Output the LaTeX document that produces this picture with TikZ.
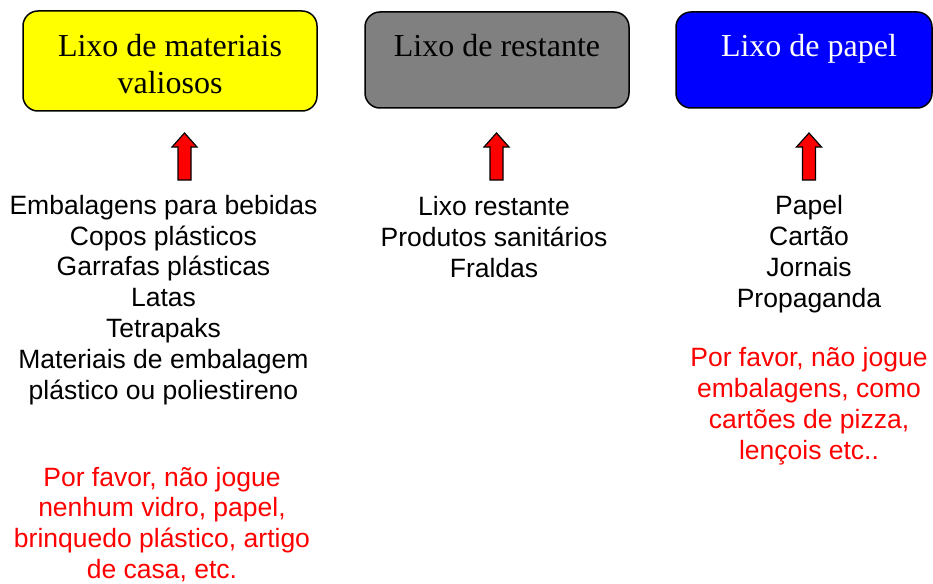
\documentclass[tikz,border=0pt]{standalone}
\usepackage{fontspec}
\setmainfont{Liberation Sans}
\newfontfamily\boxfont{Liberation Serif}
\usetikzlibrary{calc}
\definecolor{ylw}{HTML}{FFFF00}
\definecolor{gry}{HTML}{808080}
\definecolor{blu}{HTML}{0000FF}
\definecolor{rd}{HTML}{FF0000}
\tikzset{
  bin/.style={draw=black, line width=1.5pt, rounded corners=15pt},
  bintitle/.style={font=\boxfont\fontsize{32}{37}\selectfont, align=center, anchor=base, inner sep=0pt},
  itemlist/.style={font=\fontsize{26.5}{30.8}\selectfont, align=center, anchor=base, inner sep=0pt},
  warn/.style={itemlist, text=rd},
  blockarrow/.style={draw=black, line width=1.2pt, fill=rd, line join=miter}
}
\newcommand{\upblock}[1]{%
  \draw[blockarrow] ($(#1)+(-6.5,47)$) -- ($(#1)+(-6.5,14)$) -- ($(#1)+(-12.5,14)$) -- (#1)
    -- ($(#1)+(12.5,14)$) -- ($(#1)+(6.5,14)$) -- ($(#1)+(6.5,47)$) -- cycle;}
\begin{document}
\begin{tikzpicture}[x=1pt,y=-1pt]
\useasboundingbox (0,0) rectangle (933,583);
% bins
\draw[bin, fill=ylw] (23,11) rectangle (317,111);
\draw[bin, fill=gry] (365,12) rectangle (629,108);
\draw[bin, fill=blu] (676,12) rectangle (932,108);
\node[bintitle] (t1) at (170,93.5) {Lixo de materiais\\valiosos};
\node[bintitle] (t2) at (497,57) {Lixo de restante};
\node[bintitle, text=white] (t3) at (809,57) {Lixo de papel};
% arrows
\coordinate (a1) at (184.5,133);
\coordinate (a2) at (496.5,133);
\coordinate (a3) at (809,133);
\upblock{a1}
\upblock{a2}
\upblock{a3}
% lists
\node[itemlist] (l1) at (163.5,399) {Embalagens para bebidas\\Copos plásticos\\Garrafas plásticas\\Latas\\Tetrapaks\\Materiais de embalagem\\plástico ou poliestireno};
\node[itemlist] (l2) at (494,277) {Lixo restante\\Produtos sanitários\\Fraldas};
\node[itemlist] (l3) at (809,307) {Papel\\Cartão\\Jornais\\Propaganda};
\node[warn] (w1) at (162,578.5) {Por favor, não jogue\\nenhum vidro, papel,\\brinquedo plástico, artigo\\de casa, etc.};
\node[warn] (w3) at (809,459) {Por favor, não jogue\\embalagens, como\\cartões de pizza,\\lençois etc..};
\end{tikzpicture}
\end{document}
